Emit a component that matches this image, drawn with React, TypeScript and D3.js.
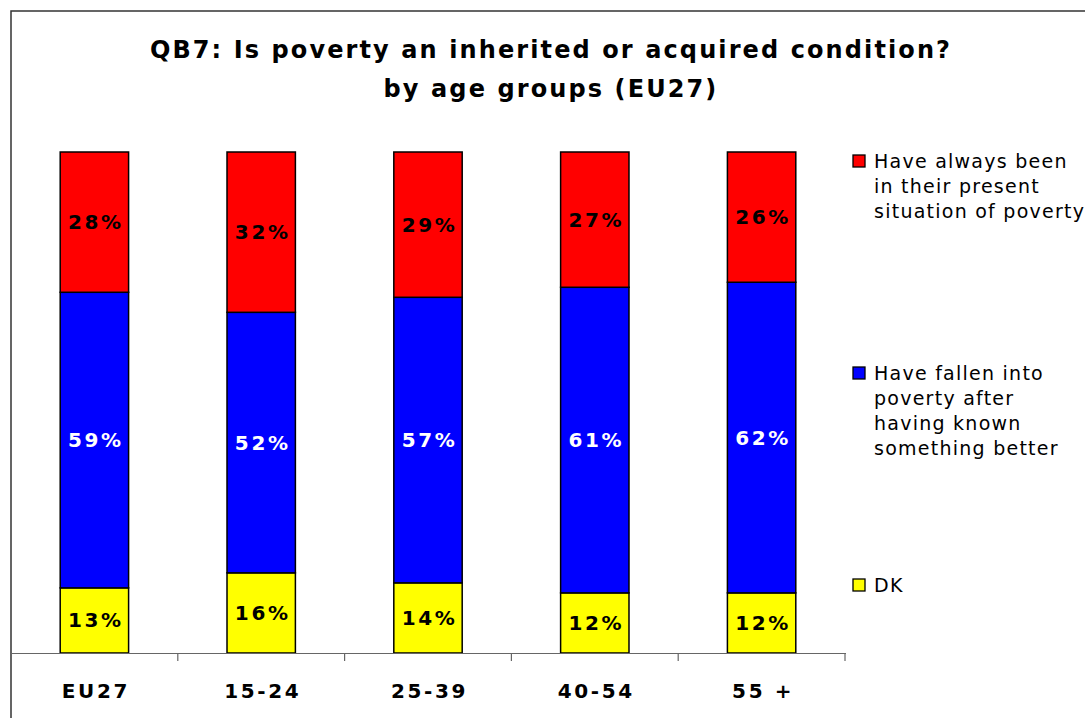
import React from "react";
import * as d3 from "d3";

const categories = ["EU27", "15-24", "25-39", "40-54", "55 +"];
const dk = [13, 16, 14, 12, 12];
const fallen = [59, 52, 57, 61, 62];
const always = [28, 32, 29, 27, 26];

const seriesNames = ["DK", "Have fallen into poverty after having known something better", "Have always been in their present situation of poverty"];
const legendLines = [
  ["Have always been", "in their present", "situation of poverty"],
  ["Have fallen into", "poverty after", "having known", "something better"],
  ["DK"],
];
const colors = ["#ffff00", "#0000ff", "#ff0000"];
const labelColors = ["#000", "#fff", "#000"];

const W = 1085;
const H = 718;
const font = "'DejaVu Sans', Verdana, sans-serif";

export default function App() {
  const rows = categories.map((c, i) => ({ cat: c, s0: dk[i], s1: fallen[i], s2: always[i] }));
  const stack = d3.stack<any>().keys(["s0", "s1", "s2"])(rows);

  const x = d3.scaleBand().domain(categories).range([11, 845]).paddingInner(0.59).paddingOuter(0.295);
  const y = d3.scaleLinear().domain([0, 100]).range([653, 152]);

  const bandEdges = d3.range(categories.length + 1).map((i) => 11 + (i * (845 - 11)) / categories.length);

  const legendY = [161, 373, 585];
  const legendSeries = [2, 1, 0];

  return (
    <svg width={W} height={H} style={{ position: "absolute", left: 0, top: 0, background: "#fff" }}>
      <path d="M11,718 V11 H1085" fill="none" stroke="#333" strokeWidth={1.5} />
      <text x={551} y={58} textAnchor="middle" fontFamily={font} fontWeight="bold" fontSize={24} letterSpacing={2.1}>
        QB7: Is poverty an inherited or acquired condition?
      </text>
      <text x={551} y={97} textAnchor="middle" fontFamily={font} fontWeight="bold" fontSize={24} letterSpacing={2.1}>
        by age groups (EU27)
      </text>

      {stack.map((layer, si) => (
        <g key={si}>
          {layer.map((d, i) => (
            <g key={i}>
              <rect
                x={x(categories[i])}
                y={y(d[1])}
                width={x.bandwidth()}
                height={y(d[0]) - y(d[1])}
                fill={colors[si]}
                stroke="#000"
                strokeWidth={1.5}
              />
              <text
                x={(x(categories[i]) as number) + x.bandwidth() / 2 + 1.5}
                y={(y(d[0]) + y(d[1])) / 2 + 7}
                textAnchor="middle"
                fontFamily={font}
                fontWeight="bold"
                fontSize={20}
                letterSpacing={2.6}
                fill={labelColors[si]}
              >
                {`${d[1] - d[0]}%`}
              </text>
            </g>
          ))}
        </g>
      ))}

      <line x1={11} x2={846} y1={653.5} y2={653.5} stroke="#666" strokeWidth={1.2} />
      {bandEdges.slice(1).map((bx, i) => (
        <line key={i} x1={bx} x2={bx} y1={653} y2={661} stroke="#666" strokeWidth={1.2} />
      ))}
      {categories.map((c) => (
        <text
          key={c}
          x={(x(c) as number) + x.bandwidth() / 2 + 1.5}
          y={698}
          textAnchor="middle"
          fontFamily={font}
          fontWeight="bold"
          fontSize={20}
          letterSpacing={2.6}
        >
          {c}
        </text>
      ))}

      {legendSeries.map((si, li) => (
        <g key={si}>
          <rect x={853} y={legendY[li] - 6} width={12} height={12} fill={colors[si]} stroke="#000" strokeWidth={1.3}>
            <title>{seriesNames[si]}</title>
          </rect>
          {legendLines[li].map((line, k) => (
            <text key={k} x={874} y={legendY[li] + 7 + k * 25} fontFamily={font} fontSize={19} letterSpacing={1.25} fill="#000">
              {line}
            </text>
          ))}
        </g>
      ))}
    </svg>
  );
}
